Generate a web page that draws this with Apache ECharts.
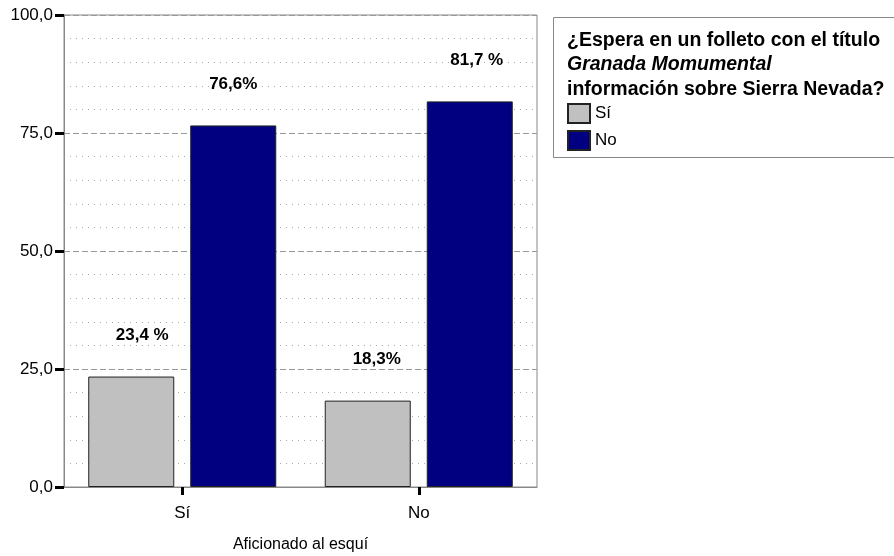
<!DOCTYPE html>
<html>
<head>
<meta charset="utf-8">
<script src="https://cdn.jsdelivr.net/npm/echarts@6/dist/echarts.min.js"></script>
<style>
  html, body { margin: 0; padding: 0; background: #fff; }
  #chart { width: 894px; height: 556px; }
</style>
</head>
<body>
<div id="chart"></div>
<script>
// Categories on the x axis (ski fan or not)
const categories = ['Sí', 'No'];
// Answer series: percentages within each category
const seriesNames = ['Sí', 'No'];
const valuesSi = [23.4, 18.3];
const valuesNo = [76.6, 81.7];
// Text after each value in the bar labels
const suffixSi = [' %', '%'];
const suffixNo = ['%', ' %'];
const yTicks = [0, 25, 50, 75, 100];

const FONT = 'Arial, "Liberation Sans", sans-serif';
const fmt = v => v.toFixed(1).replace('.', ',');

// Small horizontal nudges of the labels above the bars
const labelShiftSi = [11, 9];
const labelShiftNo = [0, 7];

function barData(values, suffixes, shifts) {
  return values.map((v, i) => ({
    value: v,
    label: {
      formatter: fmt(v) + suffixes[i],
      offset: [shifts[i], 0]
    }
  }));
}

const chart = echarts.init(document.getElementById('chart'), null, { renderer: 'canvas' });

const barLabel = {
  show: true,
  position: 'top',
  distance: 33,
  fontFamily: FONT,
  fontSize: 17,
  fontWeight: 'bold',
  color: '#000'
};

chart.setOption({
  animation: false,
  backgroundColor: '#fff',
  textStyle: { fontFamily: FONT },
  title: {
    left: 567,
    top: 28,
    padding: 0,
    text: '{a|¿Espera en un folleto con el título}\n{b|Granada Momumental}\n{a|información sobre Sierra Nevada?}',
    textStyle: {
      rich: {
        a: { fontFamily: FONT, fontSize: 19.5, fontWeight: 'bold', color: '#000', lineHeight: 24.5 },
        b: { fontFamily: FONT, fontSize: 19.5, fontWeight: 'bold', fontStyle: 'italic', color: '#000', lineHeight: 24.5 }
      }
    }
  },
  legend: {
    orient: 'vertical',
    left: 567,
    top: 103,
    padding: 0,
    itemWidth: 22,
    itemHeight: 19,
    itemGap: 6,
    icon: 'rect',
    data: seriesNames,
    textStyle: { fontFamily: FONT, fontSize: 17, color: '#000' }
  },
  graphic: [{
    type: 'rect',
    shape: { x: 553.5, y: 17.5, width: 360, height: 140 },
    style: { fill: 'none', stroke: '#888', lineWidth: 1 },
    silent: true
  }],
  grid: {
    left: 64,
    right: 357,
    top: 15,
    bottom: 69,
    containLabel: false,
    outerBoundsMode: 'none',
    show: true,
    borderColor: '#888',
    borderWidth: 1,
    backgroundColor: 'transparent'
  },
  xAxis: {
    type: 'category',
    data: categories,
    name: 'Aficionado al esquí',
    nameLocation: 'middle',
    nameGap: 50,
    nameTextStyle: { fontFamily: FONT, fontSize: 16, color: '#000' },
    axisLine: { lineStyle: { color: '#888', width: 1 } },
    axisTick: { show: true, alignWithLabel: true, length: 8, lineStyle: { color: '#000', width: 3 } },
    axisLabel: { fontFamily: FONT, fontSize: 17, color: '#000', margin: 18 },
    splitLine: { show: false }
  },
  yAxis: {
    type: 'value',
    min: yTicks[0],
    max: yTicks[yTicks.length - 1],
    interval: 25,
    axisLine: { show: true, lineStyle: { color: '#888', width: 1 } },
    axisTick: { show: true, length: 9, lineStyle: { color: '#000', width: 3 } },
    axisLabel: {
      fontFamily: FONT, fontSize: 17, color: '#000', margin: 11,
      formatter: v => fmt(v)
    },
    splitLine: { show: true, lineStyle: { color: '#999', type: [6, 3], width: 1 } },
    minorTick: { show: false, splitNumber: 5 },
    minorSplitLine: { show: true, lineStyle: { color: '#aaa', type: [1, 5], width: 1 } }
  },
  series: [
    {
      name: seriesNames[0],
      type: 'bar',
      data: barData(valuesSi, suffixSi, labelShiftSi),
      barGap: '18.6%',
      barCategoryGap: '20.5%',
      itemStyle: { color: '#c0c0c0', borderColor: '#222', borderWidth: 1 },
      label: barLabel
    },
    {
      name: seriesNames[1],
      type: 'bar',
      data: barData(valuesNo, suffixNo, labelShiftNo),
      barGap: '18.6%',
      barCategoryGap: '20.5%',
      itemStyle: { color: '#000080', borderColor: '#222', borderWidth: 1 },
      label: barLabel
    }
  ]
});
</script>
</body>
</html>
